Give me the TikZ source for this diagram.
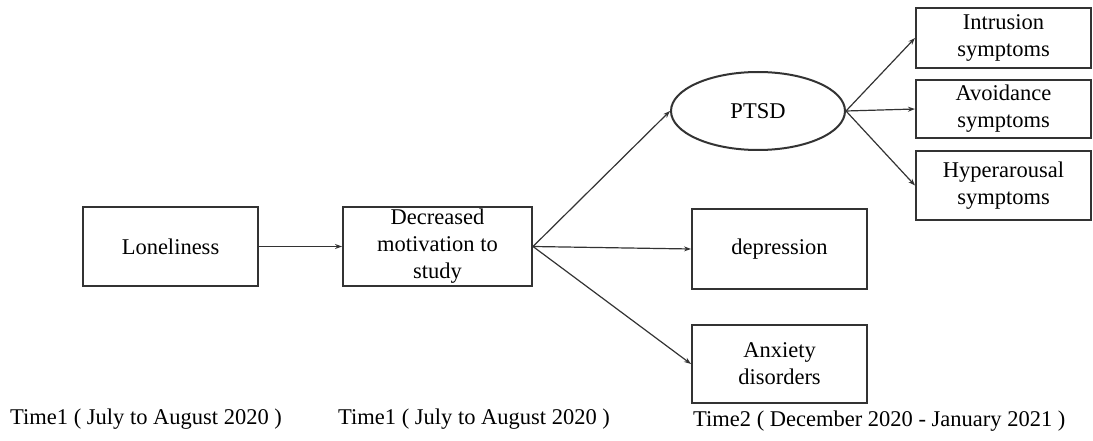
\documentclass[tikz,border=0pt]{standalone}
\usepackage{fontspec}
\setmainfont{Liberation Serif}
\usetikzlibrary{arrows.meta,shapes.geometric}

\begin{document}
\begin{tikzpicture}[
    x=1pt, y=-1pt,
    every node/.style={font=\fontsize{22.5}{27}\selectfont},
    block/.style={rectangle, draw=black!80, line width=2pt, align=center, inner sep=0pt},
    latent/.style={ellipse, draw=black!80, line width=2pt, align=center, inner sep=0pt, minimum width=174pt, minimum height=78pt},
    line/.style={-{Stealth[length=7pt,width=5pt]}, line width=1.2pt, black!80},
    timelabel/.style={anchor=base west, inner sep=0pt}
]
\useasboundingbox (0,0) rectangle (1093,441);

% time 1
\node[block, minimum width=175pt, minimum height=79pt] (lone) at (170.5,246.5) {Loneliness};
\node[block, minimum width=189pt, minimum height=79pt] (motiv) at (437.5,246.5) {Decreased\\motivation to\\study};

% time 2
\node[latent] (ptsd) at (758,111) {PTSD};
\node[block, minimum width=175pt, minimum height=80pt] (depr) at (779.5,249) {depression};
\node[block, minimum width=175pt, minimum height=78pt] (anx) at (779.5,364) {Anxiety\\disorders};
\node[block, minimum width=175pt, minimum height=60pt] (intr) at (1003.5,38) {Intrusion\\symptoms};
\node[block, minimum width=175pt, minimum height=58pt] (avoid) at (1003.5,109) {Avoidance\\symptoms};
\node[block, minimum width=175pt, minimum height=69pt] (hyper) at (1003.5,185.5) {Hyperarousal\\symptoms};

% time labels
\node[timelabel] (t1a) at (10,424) {Time1 ( July to August 2020 )};
\node[timelabel] (t1b) at (338,424) {Time1 ( July to August 2020 )};
\node[timelabel] (t2) at (693,426) {Time2 ( December 2020 - January 2021 )};

\draw[line] (lone) -- (motiv);
\draw[line] (motiv.east) -- (ptsd.west);
\draw[line] (motiv.east) -- (depr.west);
\draw[line] (motiv.east) -- (anx.west);
\draw[line] (ptsd.east) -- (intr.west);
\draw[line] (ptsd.east) -- (avoid.west);
\draw[line] (ptsd.east) -- (hyper.west);
\end{tikzpicture}
\end{document}
